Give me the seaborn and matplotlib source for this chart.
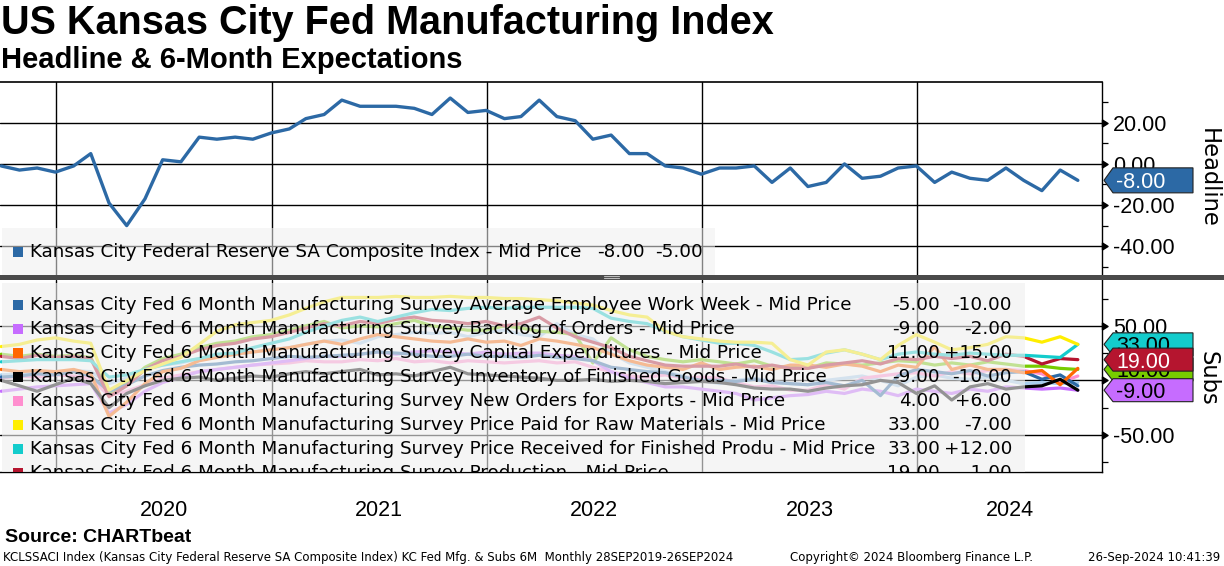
import numpy as np
import pandas as pd
import matplotlib
matplotlib.use("Agg")
import matplotlib.pyplot as plt
import matplotlib.dates as mdates
import matplotlib.transforms as mtransforms
from matplotlib.patches import Polygon, Rectangle
from matplotlib.lines import Line2D
from matplotlib.ticker import FuncFormatter, MultipleLocator
import seaborn as sns

# -----------------------------
# Data (monthly, Sep 2019 - Sep 2024)
# -----------------------------
months = pd.date_range("2019-09-30", periods=61, freq="ME")

headline = [-1, -3, -2, -4,
            -1, 5, -19, -30, -17, 2, 1, 13, 12, 13, 12, 15,
            17, 22, 24, 31, 28, 28, 28, 27, 24, 32, 25, 26,
            22, 23, 31, 23, 21, 12, 14, 5, 5, -1, -2, -5,
            -2, -2, -1, -9, -2, -11, -9, 0, -7, -6, -2, -1,
            -9, -4, -7, -8, -2, -8, -13, -3, -8]

avg_workweek = [3, 4, 6, 5,
                8, 4, -10, -4, 4, 9, 12, 14, 15, 17, 18, 20,
                22, 21, 22, 23, 24, 26, 25, 24, 22, 22, 24, 22,
                22, 21, 23, 21, 20, 18, 12, 10, 8, 7, 3, 0,
                0, -1, 1, -2, -3, -4, -2, -5, 0, -14, 4, 10,
                8, 6, 9, 4, 7, 8, 1, 5, -5]
backlog = [-10, -8, -6, -5,
           -4, -3, -30, -22, -10, -2, 3, 8, 10, 12, 14, 16,
           18, 20, 22, 22, 24, 26, 24, 26, 27, 26, 24, 26,
           24, 25, 25, 23, 22, 18, 8, 2, -2, -6, -6, -8,
           -10, -12, -18, -16, -14, -13, -10, -12, -8, -10, -14, -8,
           -10, -12, -8, -10, -6, -7, -8, -7, -9]
capex = [10, 8, 9, 8,
         10, 6, -33, -20, -3, 8, 11, 18, 21, 24, 26, 28,
         30, 33, 36, 33, 38, 42, 40, 38, 36, 35, 38, 35,
         36, 32, 38, 36, 33, 30, 24, 18, 14, 12, 10, 16,
         10, 12, 13, 10, 14, 14, 12, 15, 13, 8, 14, 12,
         31, 10, 14, 10, 10, 7, 9, -4, 11]
inventory_fg = [0, -5, -10, -4,
                2, -3, -25, -12, -5, 0, 2, 3, 0, 2, 4, 3,
                6, 8, 6, 8, 10, 5, 6, 4, 8, 12, 6, 5,
                4, 3, 2, 0, 0, 1, -1, 0, -1, -3, -2, -1,
                -2, -4, -7, -8, -8, -10, -7, -5, -4, 0, -2, -12,
                -5, -18, -6, -3, -8, -6, -5, 1, -9]
exports = [2, 4, 3, 5,
           4, 2, -14, -10, -4, 2, 5, 8, 10, 12, 14, 15,
           16, 18, 17, 17, 19, 18, 20, 17, 18, 16, 18, 17,
           16, 17, 18, 16, 17, 12, 8, 4, 3, 5, 2, 3,
           2, -2, -6, -5, -9, -9, -4, -8, 2, 4, 6, 7,
           4, 8, 6, 9, 10, 9, 6, -2, 4]
price_paid = [31, 33, 37, 39,
              36, 34, -9, 0, 9, 15, 21, 33, 45, 51, 53, 55,
              60, 66, 72, 76, 76, 76, 77, 76, 76, 77, 76, 76,
              75, 75, 74, 73, 71, 69, 64, 60, 58, 45, 40, 38,
              36, 35, 35, 34, 19, 14, 26, 28, 24, 19, 32, 42,
              35, 28, 30, 33, 40, 39, 35, 40, 33]
price_received = [17, 18, 19, 19,
                  19, 18, 3, 5, 10, 14, 17, 20, 24, 25, 30, 34,
                  38, 44, 50, 55, 58, 54, 58, 62, 65, 64, 66, 67,
                  66, 67, 67, 67, 67, 66, 57, 54, 52, 45, 40, 37,
                  34, 34, 32, 26, 19, 20, 25, 28, 24, 19, 24, 26,
                  24, 23, 25, 24, 23, 23, 22, 21, 33]
production = [22, 20, 23, 21,
              22, 20, -15, -5, 10, 18, 22, 28, 32, 34, 38, 40,
              44, 48, 52, 50, 54, 52, 56, 58, 55, 54, 52, 54,
              50, 52, 58, 48, 40, 35, 30, 22, 18, 14, 13, 13,
              13, 15, 12, 14, 11, 11, 14, 16, 18, 15, 20, 19,
              22, 20, 22, 18, 24, 22, 15, 20, 19]
shipments = [24, 22, 24, 22,
             23, 21, -12, -3, 12, 20, 24, 30, 34, 36, 40, 42,
             46, 50, 54, 48, 50, 49, 52, 55, 50, 48, 46, 46,
             50, 48, 45, 44, 42, 16, 39, 28, 22, 19, 17, 19,
             17, 15, 18, 13, 12, 11, 16, 15, 14, 16, 18, 17,
             14, 16, 14, 17, 15, 13, 13, 11, 10]
delivery = [5, 6, 8, 7,
            9, 8, -3, 2, 10, 14, 16, 20, 22, 24, 26, 28,
            30, 33, 36, 37, 34, 40, 42, 44, 43, 44, 40, 44,
            46, 42, 40, 52, 42, 38, 25, 16, 12, 8, 4, 0,
            -3, 0, 2, -1, -3, -4, 0, 2, 4, 0, -5, 3,
            5, 2, 1, 3, 0, -3, -2, -3, -2]

prefix = "Kansas City Fed 6 Month Manufacturing Survey "
legend_names = ["Average Employee Work Week - Mid Price",
                "Backlog of Orders - Mid Price",
                "Capital Expenditures - Mid Price",
                "Inventory of Finished Goods - Mid Price",
                "New Orders for Exports - Mid Price",
                "Price Paid for Raw Materials - Mid Price",
                "Price Received for Finished Produ - Mid Price",
                "Production - Mid Price"]
legend_last = ["-5.00", "-9.00", "11.00", "-9.00", "4.00", "33.00", "33.00", "19.00"]
legend_chg = ["-10.00", "-2.00", "+15.00", "-10.00", "+6.00", "-7.00", "+12.00", "-1.00"]

BLUE = "#2c69a5"
colors = {"delivery": "#a9cdee", "shipments": "#77cc00", "exports": "#ff8fcf",
          "backlog": "#c66cff", "avg_workweek": BLUE, "capex": "#ff6600",
          "production": "#b5152f", "price_received": "#13cccc",
          "price_paid": "#ffee00", "inventory_fg": "#000000"}
series = {"delivery": delivery, "shipments": shipments, "exports": exports,
          "backlog": backlog, "avg_workweek": avg_workweek, "capex": capex,
          "production": production, "price_received": price_received,
          "price_paid": price_paid, "inventory_fg": inventory_fg}
legend_colors = [BLUE, "#c66cff", "#ff6600", "#000000", "#ff8fcf", "#ffee00", "#13cccc", "#b5152f"]

subs = pd.DataFrame([{"date": d, "value": v, "series": k}
                     for k, vals in series.items() for d, v in zip(months, vals)])

# -----------------------------
# Figure setup
# -----------------------------
sns.set_theme(style="white")
plt.rcParams["font.family"] = ["Liberation Sans", "DejaVu Sans"]
plt.rcParams["text.color"] = "black"
plt.rcParams["ytick.color"] = "black"
plt.rcParams["xtick.color"] = "black"

LEG = ["DejaVu Sans"]      # legend / axis-name text looks like a Verdana/Tahoma face
LEG_FS = 13.2

W, H = 1224, 566
fig = plt.figure(figsize=(W / 100, H / 100), dpi=100)
fx = lambda px: px / W
fy = lambda py: 1 - py / H

def box(l, t, r, b):
    return [fx(l), fy(b), fx(r) - fx(l), fy(t) - fy(b)]

ax1 = fig.add_axes(box(0, 82, 1102, 275))
ax2 = fig.add_axes(box(0, 280, 1102, 472), sharex=ax1)

sns.lineplot(x=months, y=headline, ax=ax1, color=BLUE, linewidth=2.4)
sns.lineplot(data=subs, x="date", y="value", hue="series", palette=colors,
             ax=ax2, linewidth=2.3, legend=False)

x_left, x_right = pd.Timestamp("2019-09-28"), pd.Timestamp("2024-11-10")
ax1.set_xlim(x_left, x_right)
ax1.set_ylim(-54, 39.8)
ax2.set_ylim(-84, 92)

fmt = FuncFormatter(lambda v, p: f"{v:.2f}")
for ax, major, minor in [(ax1, 20, 10), (ax2, 50, 25)]:
    ax.set_xlabel("")
    ax.set_ylabel("")
    ax.yaxis.tick_right()
    ax.yaxis.set_major_locator(MultipleLocator(major))
    ax.yaxis.set_minor_locator(MultipleLocator(minor))
    ax.yaxis.set_major_formatter(fmt)
    ax.tick_params(axis="y", which="major", direction="out", length=4, width=1,
                   labelsize=15.5, pad=4, colors="black")
    ax.tick_params(axis="y", which="minor", direction="out", length=4, width=0.9, colors="black")
    ax.set_axisbelow(True)
    ax.grid(True, which="major", axis="both", color="black", linewidth=1)
    ax.spines["left"].set_visible(False)
    ax.spines["right"].set_color("black")
    ax.spines["right"].set_linewidth(1)

ax1.spines["bottom"].set_visible(False)
ax1.spines["top"].set_color("black")
ax1.spines["top"].set_linewidth(1.2)
ax2.spines["top"].set_visible(False)
ax2.spines["bottom"].set_color("black")
ax2.spines["bottom"].set_linewidth(1)

ax2.xaxis.set_major_locator(mdates.YearLocator())
ax2.xaxis.set_minor_locator(mdates.MonthLocator(bymonth=[1, 4, 7, 10]))
ax1.tick_params(axis="x", which="both", length=0, labelbottom=False)
ax2.tick_params(axis="x", which="major", direction="out", length=37, width=1,
                color="#8a8a8a", labelbottom=False)
ax2.tick_params(axis="x", which="minor", direction="out", length=3.5, width=0.9, color="black")

# year labels in the date band
xtr = mtransforms.blended_transform_factory(ax2.transData, ax2.transAxes)
for yr in range(2020, 2025):
    start = pd.Timestamp(f"{yr}-01-01")
    end = min(pd.Timestamp(f"{yr + 1}-01-01"), x_right)
    mid = start + (end - start) / 2
    ax2.text(mid, -0.203, str(yr), transform=xtr, ha="center", va="center",
             fontsize=15.5, color="black", clip_on=False)

# -----------------------------
# Legends (semi-transparent panels)
# -----------------------------
def leg_text(ax, px, py, s, ha="left"):
    ax.text(fx(px), fy(py), s, transform=fig.transFigure, va="center", ha=ha,
            fontsize=LEG_FS, family=LEG, zorder=7, clip_on=True)

ax1.add_patch(Rectangle((fx(2), fy(280)), fx(715) - fx(2), fy(228) - fy(280),
                        transform=fig.transFigure, fc="#efefef", ec="none", alpha=0.55, zorder=4))
ax1.add_patch(Rectangle((fx(13), fy(257)), fx(10), fy(247) - fy(257),
                        transform=fig.transFigure, fc=BLUE, ec="none", zorder=6))
leg_text(ax1, 30, 252, "Kansas City Federal Reserve SA Composite Index - Mid Price")
leg_text(ax1, 645, 252, "-8.00", ha="right")
leg_text(ax1, 703, 252, "-5.00", ha="right")

ax2.add_patch(Rectangle((fx(2), fy(490)), fx(1025) - fx(2), fy(283) - fy(490),
                        transform=fig.transFigure, fc="#efefef", ec="none", alpha=0.62, zorder=4))
for k, (name, c, last, chg) in enumerate(zip(legend_names, legend_colors, legend_last, legend_chg)):
    yc = 305 + 24 * k
    ax2.add_patch(Rectangle((fx(13), fy(yc + 5)), fx(10), fy(yc - 5) - fy(yc + 5),
                            transform=fig.transFigure, fc=c, ec="none", zorder=6))
    leg_text(ax2, 30, yc, prefix + name)
    leg_text(ax2, 940, yc, last, ha="right")
    leg_text(ax2, 1012, yc, chg, ha="right")

# -----------------------------
# Last-value tags on the right axis
# -----------------------------
def tag(ax, value, fc, tc, z, half_px=11.5):
    tr = mtransforms.blended_transform_factory(fig.transFigure, ax.transData)
    y0, y1 = ax.get_ylim()
    dh = half_px * (y1 - y0) / (ax.get_position().height * H)
    verts = [(fx(1104), value), (fx(1113), value + dh), (fx(1193), value + dh),
             (fx(1193), value - dh), (fx(1113), value - dh)]
    fig.add_artist(Polygon(verts, closed=True, transform=tr, fc=fc, ec="#222222",
                           lw=0.8, zorder=z))
    fig.text(fx(1116), value, f"{value:.2f}", transform=tr, ha="left", va="center_baseline",
             fontsize=15.5, color=tc, zorder=z + 0.5)

tag(ax1, headline[-1], BLUE, "white", 5, half_px=12.5)
tag(ax2, price_received[-1], colors["price_received"], "black", 5)
tag(ax2, shipments[-1], colors["shipments"], "black", 6)
tag(ax2, backlog[-1], colors["backlog"], "black", 7)
tag(ax2, production[-1], colors["production"], "white", 8)

fig.text(fx(1208), fy(178), "Headline", rotation=270, ha="center", va="center",
         fontsize=16.3, family=LEG)
fig.text(fx(1208), fy(378), "Subs", rotation=270, ha="center", va="center",
         fontsize=16.3, family=LEG)

# separator between panels
fig.add_artist(Rectangle((0, fy(279.5)), 1, fy(274.5) - fy(279.5), transform=fig.transFigure,
                         fc="#4a4a4a", ec="none", zorder=9))
for yy in (276.3, 278.0):
    fig.add_artist(Line2D([fx(604), fx(619)], [fy(yy), fy(yy)], transform=fig.transFigure,
                          color="#bbbbbb", lw=0.8, zorder=10))

# -----------------------------
# Titles and footer
# -----------------------------
fig.text(fx(1), fy(23), "US Kansas City Fed Manufacturing Index", fontsize=28.5,
         fontweight="bold", ha="left", va="center")
fig.text(fx(1), fy(60), "Headline & 6-Month Expectations", fontsize=21,
         fontweight="bold", ha="left", va="center")
fig.text(fx(5), fy(537), "Source: CHARTbeat", fontsize=14, fontweight="bold",
         ha="left", va="center")
fig.text(fx(3), fy(557), "KCLSSACI Index (Kansas City Federal Reserve SA Composite Index) "
         "KC Fed Mfg. & Subs 6M  Monthly 28SEP2019-26SEP2024", fontsize=8.45, family=LEG,
         ha="left", va="center")
fig.text(fx(790), fy(557), "Copyright\u00a9 2024 Bloomberg Finance L.P.", fontsize=8.45,
         family=LEG, ha="left", va="center")
fig.text(fx(1220), fy(557), "26-Sep-2024 10:41:39", fontsize=8.45, family=LEG,
         ha="right", va="center")

# caret-shaped major ticks on the right axes
for ax in (ax1, ax2):
    for t in ax.yaxis.get_major_ticks():
        t.tick2line.set_marker([(0, -1), (1.6, 0), (0, 1), (0, -1)])
        t.tick2line.set_markersize(8)
        t.tick2line.set_markerfacecolor("black")
        t.tick2line.set_markeredgecolor("black")

fig.savefig("out.png", dpi=100)
